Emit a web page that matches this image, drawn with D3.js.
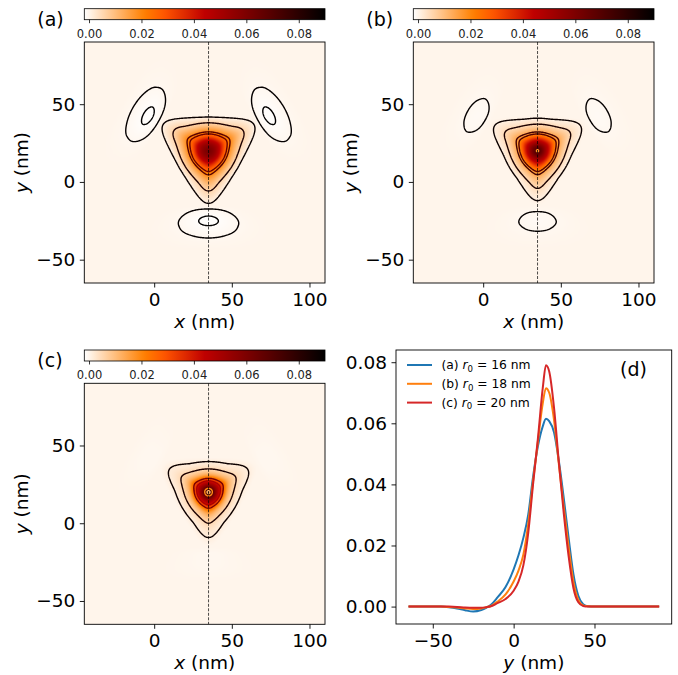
<!DOCTYPE html>
<html>
<head>
<meta charset="utf-8">
<script src="https://cdn.jsdelivr.net/npm/d3@7"></script>
<style>
  body { margin: 0; background: #fff; }
  svg { font-family: "DejaVu Sans", sans-serif; }
</style>
</head>
<body>
<svg id="fig" width="678" height="675"></svg>
<script>
// cut along the dashed line x = 35 nm
const yNm = [-65, -45, -40, -35, -30, -25, -20, -17, -14, -10, -5, 0, 3, 6, 9, 12, 15, 18, 20, 22, 25, 28, 31, 34, 37, 40, 43, 46, 50, 90]
const densA = [0, 0, -0.0002, -0.0006, -0.0012, -0.0016, -0.0011, -0.0004, 0.0006, 0.0030, 0.0064, 0.0122, 0.0168, 0.0225, 0.0300, 0.0425, 0.0525, 0.0590, 0.0615, 0.0607, 0.0570, 0.0475, 0.0355, 0.0225, 0.0105, 0.0035, 0.0008, 0.0001, 0, 0]
const densB = [0, 0, -0.0001, -0.0003, -0.0006, -0.0008, -0.0006, -0.0002, 0.0002, 0.0016, 0.0040, 0.0082, 0.0118, 0.0170, 0.0270, 0.0410, 0.0540, 0.0665, 0.0715, 0.0700, 0.0610, 0.0465, 0.0325, 0.0195, 0.0080, 0.0022, 0.0004, 0.0001, 0, 0]
const densC = [0, 0, 0, -0.0001, -0.0003, -0.0004, -0.0004, -0.0002, 0.0001, 0.0011, 0.0025, 0.0052, 0.0082, 0.0135, 0.0240, 0.0400, 0.0550, 0.0715, 0.0790, 0.0770, 0.0650, 0.0470, 0.0305, 0.0165, 0.0060, 0.0014, 0.0002, 0, 0, 0]
const radii = [16, 18, 20]
const tags = ["(a)", "(b)", "(c)"]

// contour levels of each map
const levelsA = [-0.0014, -0.0005, 0.0007, 0.0057, 0.0196, 0.024]
const levelsB = [-0.0005, 0.0008, 0.0046, 0.0143, 0.019, 0.0705]
const levelsC = [0.0013, 0.0052, 0.027, 0.039, 0.069, 0.0765]

const center = [35, 20]        // dot centre (nm)
const xLim = [-45, 110], yLim = [-65, 90]
const cLim = [-0.0018, 0.09]   // colour range
const cbTicks = [0, 0.02, 0.04, 0.06, 0.08]
const mapXTicks = [0, 50, 100], mapYTicks = [-50, 0, 50]
const cutXTicks = [-50, 0, 50], cutYTicks = [0, 0.02, 0.04, 0.06, 0.08]
const cutColors = ["#1f77b4", "#ff7f0e", "#d62728"]

const svg = d3.select("#fig")

// matplotlib gist_heat
const gistHeat = t => d3.rgb(255 * Math.min(1, 1.5 * t), 255 * Math.max(0, 2 * t - 1), 255 * Math.max(0, 4 * t - 3))
const heatR = d3.scaleSequential(t => gistHeat(1 - t)).domain(cLim).clamp(true)
const lineHeat = d3.scaleSequential(gistHeat).domain(cLim).clamp(true)

// monotone cubic through the read points (same idea as curveMonotoneX)
function monotone(xs, ys) {
  const n = xs.length, h = [], s = [], m = []
  for (let i = 0; i < n - 1; i++) { h[i] = xs[i + 1] - xs[i]; s[i] = (ys[i + 1] - ys[i]) / h[i] }
  m[0] = s[0]; m[n - 1] = s[n - 2]
  for (let i = 1; i < n - 1; i++) {
    const p = (s[i - 1] * h[i] + s[i] * h[i - 1]) / (h[i - 1] + h[i])
    m[i] = (Math.sign(s[i - 1]) + Math.sign(s[i])) * Math.min(Math.abs(s[i - 1]), Math.abs(s[i]), 0.5 * Math.abs(p)) || 0
  }
  return x => {
    if (x <= xs[0]) return ys[0]
    if (x >= xs[n - 1]) return ys[n - 1]
    const i = Math.min(n - 2, d3.bisectRight(xs, x) - 1)
    const t = (x - xs[i]) / h[i], t2 = t * t, t3 = t2 * t
    return (2 * t3 - 3 * t2 + 1) * ys[i] + (t3 - 2 * t2 + t) * h[i] * m[i] +
      (-2 * t3 + 3 * t2) * ys[i + 1] + (t3 - t2) * h[i] * m[i + 1]
  }
}

// the maps are built from the cut below the centre (towards a corner):
// positive part on a rounded-triangle radius, negative part as three
// lobes sitting out past the corners
const rad = d => d * Math.PI / 180
const edgeDirs = [90, 210, 330].map(rad)
const cornerDirs = [270, 30, 150].map(rad)
const Q = 4, Sv = 0.5 * Math.pow(2, 1 / Q)

function triRadius(dx, dy, r) {
  if (r === 0) return 0
  let s = 0
  edgeDirs.forEach(e => {
    const c = (dx * Math.cos(e) + dy * Math.sin(e)) / r
    if (c > 0) s += Math.pow(c, Q)
  })
  const tau = 1 + (Math.pow(s, 1 / Q) - Sv) / (1 - Sv)
  const a = 0.56 * Math.min(1, Math.pow(r / 22, 1.3))
  return r * (1 + a * (tau - 1))
}

function density(prof, x, y) {
  const dx = x - center[0], dy = y - center[1]
  const r = Math.hypot(dx, dy)
  const rho = triRadius(dx, dy, r)
  const pos = Math.max(0, prof(center[1] - rho))
  const th = Math.atan2(dy, dx)
  let u = 0
  cornerDirs.forEach(c => { u = Math.max(u, dx * Math.cos(c) + dy * Math.sin(c)) })
  const w = Math.pow((1 + Math.cos(3 * (th + Math.PI / 2))) / 2, 3)
  const neg = w * Math.min(0, prof(center[1] - u))
  return pos + neg
}

const maps = [
  {dens: densA, levels: levelsA, box: [84.3, 42, 325, 283]},
  {dens: densB, levels: levelsB, box: [413.3, 42, 654, 283]},
  {dens: densC, levels: levelsC, box: [84.3, 383.3, 325, 624.3]}
]

const fmtTick = d3.format("d")

maps.forEach((p, k) => {
  const [l, t, r, b] = p.box
  const xs = d3.scaleLinear().domain(xLim).range([l, r])
  const ys = d3.scaleLinear().domain(yLim).range([b, t])
  const prof = monotone(yNm, p.dens)
  const n = 310
  const sx = (xLim[1] - xLim[0]) / n, sy = (yLim[1] - yLim[0]) / n
  const vals = new Float64Array(n * n)
  for (let j = 0; j < n; j++)
    for (let i = 0; i < n; i++)
      vals[j * n + i] = density(prof, xLim[0] + (i + 0.5) * sx, yLim[1] - (j + 0.5) * sy)

  const cv = document.createElement("canvas")
  cv.width = n; cv.height = n
  const ctx = cv.getContext("2d")
  const img = ctx.createImageData(n, n)
  vals.forEach((v, q) => {
    const c = heatR(v)
    img.data[4 * q] = c.r; img.data[4 * q + 1] = c.g; img.data[4 * q + 2] = c.b; img.data[4 * q + 3] = 255
  })
  ctx.putImageData(img, 0, 0)

  const g = svg.append("g")
  g.append("clipPath").attr("id", "clip" + k)
    .append("rect").attr("x", l).attr("y", t).attr("width", r - l).attr("height", b - t)
  const inner = g.append("g").attr("clip-path", `url(#clip${k})`)
  inner.append("image").attr("href", cv.toDataURL())
    .attr("x", l).attr("y", t).attr("width", r - l).attr("height", b - t)
    .attr("preserveAspectRatio", "none")

  const path = d3.geoPath(d3.geoTransform({
    point(cx, cy) { this.stream.point(xs(xLim[0] + cx * sx), ys(yLim[1] - cy * sy)) }
  }))
  const pos = p.levels.filter(v => v > 0)
  const neg = p.levels.filter(v => v < 0).map(v => -v)
  const cPos = d3.contours().size([n, n]).thresholds(pos)(vals)
  const cNeg = neg.length ? d3.contours().size([n, n]).thresholds(neg)(vals.map(v => -v)) : []
  inner.selectAll("path.neg").data(cNeg).join("path")
    .attr("d", path).attr("fill", "none")
    .attr("stroke", d => lineHeat(-d.value)).attr("stroke-width", 1.4)
  inner.selectAll("path.pos").data(cPos).join("path")
    .attr("d", path).attr("fill", "none")
    .attr("stroke", d => lineHeat(d.value)).attr("stroke-width", 1.4)

  inner.append("line")
    .attr("x1", xs(center[0])).attr("x2", xs(center[0]))
    .attr("y1", t).attr("y2", b)
    .attr("stroke", "#000").attr("stroke-width", 0.7).attr("stroke-dasharray", "3,1.5")

  g.append("rect").attr("x", l).attr("y", t).attr("width", r - l).attr("height", b - t)
    .attr("fill", "none").attr("stroke", "#000").attr("stroke-width", 0.9)

  const ax = g.append("g").attr("transform", `translate(0,${b})`)
    .call(d3.axisBottom(xs).tickValues(mapXTicks).tickSize(4.5).tickPadding(5.5).tickSizeOuter(0).tickFormat(fmtTick))
  const ay = g.append("g").attr("transform", `translate(${l},0)`)
    .call(d3.axisLeft(ys).tickValues(mapYTicks).tickSize(4.5).tickPadding(4.5).tickSizeOuter(0).tickFormat(fmtTick))
  ;[ax, ay].forEach(a => {
    a.select(".domain").remove()
    a.attr("font-size", 18.5).attr("font-family", null)
    a.selectAll("line").attr("stroke-width", 0.9)
  })

  g.append("text").attr("x", (l + r) / 2).attr("y", b + 45).attr("text-anchor", "middle")
    .attr("font-size", 18.5)
    .call(s => { s.append("tspan").attr("font-style", "italic").text("x"); s.append("tspan").text(" (nm)") })
  g.append("text").attr("transform", `translate(${l - 56},${(t + b) / 2}) rotate(-90)`)
    .attr("text-anchor", "middle").attr("font-size", 18.5)
    .call(s => { s.append("tspan").attr("font-style", "italic").text("y"); s.append("tspan").text(" (nm)") })

  // colour bar above each map
  const cbTop = t - 33.3, cbH = 11
  const cb = d3.scaleLinear().domain(cLim).range([l, r])
  const gradId = "grad" + k
  const grad = g.append("linearGradient").attr("id", gradId)
  d3.range(0, 1.0001, 0.02).forEach(f => {
    grad.append("stop").attr("offset", f).attr("stop-color", heatR(cLim[0] + f * (cLim[1] - cLim[0])))
  })
  g.append("rect").attr("x", l).attr("y", cbTop).attr("width", r - l).attr("height", cbH)
    .attr("fill", `url(#${gradId})`).attr("stroke", "#000").attr("stroke-width", 0.8)
  const ac = g.append("g").attr("transform", `translate(0,${cbTop + cbH})`)
    .call(d3.axisBottom(cb).tickValues(cbTicks).tickSize(3.5).tickPadding(6.5).tickSizeOuter(0).tickFormat(d3.format(".2f")))
  ac.select(".domain").remove()
  ac.attr("font-size", 11.5).attr("font-family", null)
  ac.selectAll("text").attr("fill", "#222")
  ac.selectAll("line").attr("stroke-width", 0.8)

  g.append("text").attr("x", l - 47).attr("y", t - 16).attr("font-size", 19).text(tags[k])
})

// panel (d): the three cuts
const box = [396, 350, 671.7, 624]
const cx = d3.scaleLinear().domain([-72.75, 97.75]).range([box[0], box[2]])
const cy = d3.scaleLinear().domain([-0.0057, 0.084]).range([box[3], box[1]])
const gd = svg.append("g")
const line = d3.line().x((d, i) => cx(yNm[i])).y(d => cy(d)).curve(d3.curveMonotoneX)
;[densA, densB, densC].forEach((s, i) => {
  gd.append("path").attr("d", line(s)).attr("fill", "none")
    .attr("stroke", cutColors[i]).attr("stroke-width", 2)
})
gd.append("rect").attr("x", box[0]).attr("y", box[1]).attr("width", box[2] - box[0]).attr("height", box[3] - box[1])
  .attr("fill", "none").attr("stroke", "#000").attr("stroke-width", 0.9)
const dax = gd.append("g").attr("transform", `translate(0,${box[3]})`)
  .call(d3.axisBottom(cx).tickValues(cutXTicks).tickSize(4.5).tickPadding(5.5).tickSizeOuter(0).tickFormat(fmtTick))
const day = gd.append("g").attr("transform", `translate(${box[0]},0)`)
  .call(d3.axisLeft(cy).tickValues(cutYTicks).tickSize(4.5).tickPadding(4.5).tickSizeOuter(0).tickFormat(d3.format(".2f")))
;[dax, day].forEach(a => {
  a.select(".domain").remove()
  a.attr("font-size", 18.5).attr("font-family", null)
  a.selectAll("line").attr("stroke-width", 0.9)
})
gd.append("text").attr("x", (box[0] + box[2]) / 2).attr("y", box[3] + 45).attr("text-anchor", "middle")
  .attr("font-size", 18.5)
  .call(s => { s.append("tspan").attr("font-style", "italic").text("y"); s.append("tspan").text(" (nm)") })
gd.append("text").attr("x", 620).attr("y", 376).attr("font-size", 19).text("(d)")

// legend
radii.forEach((r0, i) => {
  const ly = 365 + i * 18.8
  gd.append("line").attr("x1", 407).attr("x2", 432).attr("y1", ly).attr("y2", ly)
    .attr("stroke", cutColors[i]).attr("stroke-width", 2)
  const tx = gd.append("text").attr("x", 441.5).attr("y", ly + 4.3).attr("font-size", 12.3)
  tx.append("tspan").text(tags[i] + " ")
  tx.append("tspan").attr("font-style", "italic").text("r")
  tx.append("tspan").attr("font-size", 8.6).attr("dy", 2.5).text("0")
  tx.append("tspan").attr("dy", -2.5).text(" = " + r0 + " nm")
})
</script>
</body>
</html>
